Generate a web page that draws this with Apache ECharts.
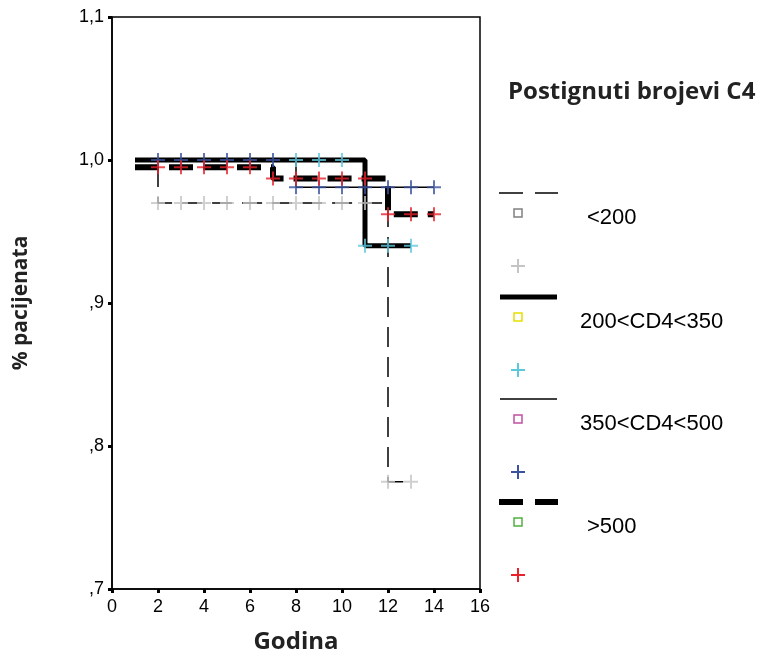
<!DOCTYPE html>
<html>
<head>
<meta charset="utf-8">
<script src="https://cdn.jsdelivr.net/npm/echarts@6/dist/echarts.min.js"></script>
<style>html,body{margin:0;padding:0;background:#fff;}#c{width:760px;height:657px;}</style>
</head>
<body>
<div id="c"></div>
<script>
// ---- data ----
const groupNames = ['<200', '200<CD4<350', '350<CD4<500', '>500'];
// survival step curves: [time, survival after event]
const curveLt200 = [[1, 1.0], [2, 0.970], [12, 0.775], [13, 0.775]];
const curve200to350 = [[1, 1.0], [11, 0.940], [13, 0.940]];
const curve350to500 = [[1, 1.0], [8, 0.981], [14, 0.981]];
const curveGt500 = [[1, 0.995], [7, 0.987], [12, 0.962], [14, 0.962]];
// censored observations
const censLt200 = [[2,0.970],[3,0.970],[4,0.970],[5,0.970],[6,0.970],[7,0.970],[8,0.970],[9,0.970],[10,0.970],[11,0.970],[12,0.775],[13,0.775]];
const cens200to350 = [[8,1.0],[9,1.0],[10,1.0],[11,0.940],[12,0.940],[13,0.940]];
const cens350to500 = [[2,1.0],[3,1.0],[4,1.0],[5,1.0],[6,1.0],[7,1.0],[8,0.981],[9,0.981],[10,0.981],[11,0.981],[12,0.981],[13,0.981],[14,0.981]];
const censGt500 = [[2,0.995],[3,0.995],[4,0.995],[5,0.995],[6,0.995],[7,0.987],[8,0.987],[9,0.987],[10,0.987],[11,0.987],[12,0.962],[13,0.962],[14,0.962]];
const xTickValues = [0, 2, 4, 6, 8, 10, 12, 14, 16];
const yTickLabels = ['1,1', '1,0', ',9', ',8', ',7'];

// ---- styles ----
const crossPath = 'path://M0,6 H14 V8 H0 Z M6,0 H8 V14 H6 Z';
const censorColors = ['#c4c4c4', '#5cc8dc', '#3a52a0', '#e8212b'];
const squareColors = ['#808080', '#e6e000', '#c050a0', '#50b040'];
const lineStyles = [
  { width: 1.5, type: [20, 10] },
  { width: 5, type: 'solid' },
  { width: 1.5, type: 'solid' },
  { width: 6, type: [24, 10] }
];
const curves = [curveLt200, curve200to350, curve350to500, curveGt500];
const censors = [censLt200, cens200to350, cens350to500, censGt500];

const series = [];
curves.forEach((c, i) => {
  series.push({
    name: groupNames[i], type: 'line', step: 'end', data: c, showSymbol: false, silent: true,
    lineStyle: { color: '#000', width: lineStyles[i].width, type: lineStyles[i].type },
    z: 2
  });
});
censors.forEach((c, i) => {
  series.push({
    name: groupNames[i] + ' cens', type: 'scatter', data: c, symbol: crossPath, symbolSize: 14,
    itemStyle: { color: censorColors[i] }, z: 3 + i
  });
});

// ---- legend (graphic) ----
const legTop = [193, 297, 399, 502];
const graphic = [];
graphic.push({ type: 'text', x: 508, y: 92, style: { text: 'Postignuti brojevi C4', font: 'bold 24px "Open Sans"', fill: '#222', verticalAlign: 'middle' } });
legTop.forEach((y, i) => {
  const ls = lineStyles[i];
  if (Array.isArray(ls.type)) {
    graphic.push({ type: 'line', shape: { x1: 499, y1: y, x2: 523, y2: y }, style: { stroke: '#000', lineWidth: ls.width } });
    graphic.push({ type: 'line', shape: { x1: 535, y1: y, x2: 558, y2: y }, style: { stroke: '#000', lineWidth: ls.width } });
  } else {
    graphic.push({ type: 'line', shape: { x1: 500, y1: y, x2: 557, y2: y }, style: { stroke: '#000', lineWidth: ls.width } });
  }
  const sq = y + 20;
  graphic.push({ type: 'rect', shape: { x: 514, y: sq - 4, width: 8, height: 8 }, style: { fill: 'none', stroke: squareColors[i], lineWidth: 1.5 } });
  const cy = y + 73;
  graphic.push({ type: 'rect', shape: { x: 511, y: cy - 1, width: 14, height: 2 }, style: { fill: censorColors[i] } });
  graphic.push({ type: 'rect', shape: { x: 517, y: cy - 7, width: 2, height: 14 }, style: { fill: censorColors[i] } });
  const lbl = groupNames[i];
  const lx = (lbl.length > 4) ? 580 : 587;
  graphic.push({ type: 'text', x: lx, y: y + 25, style: { text: lbl, font: '22px "Liberation Sans"', fill: '#000', verticalAlign: 'middle' } });
});

const chart = echarts.init(document.getElementById('c'), null, { renderer: 'canvas' });
chart.setOption({
  backgroundColor: '#fff',
  animation: false,
  grid: { left: 112, right: 280, top: 17, bottom: 68, containLabel: false, outerBoundsMode: 'none',
    show: true, borderColor: '#000', borderWidth: 1.5 },
  xAxis: {
    type: 'value', min: 0, max: 16, interval: 2,
    name: 'Godina', nameLocation: 'middle', nameGap: 41,
    nameTextStyle: { fontFamily: 'Open Sans', fontWeight: 'bold', fontSize: 24, color: '#222' },
    axisLine: { lineStyle: { color: '#000', width: 1.5 } },
    axisTick: { length: 4, lineStyle: { color: '#000', width: 3 } },
    axisLabel: { fontFamily: 'Liberation Sans', fontSize: 18, color: '#000', margin: 9,
      formatter: v => String(xTickValues[xTickValues.indexOf(v)]) },
    splitLine: { show: false }
  },
  yAxis: {
    type: 'value', min: 0.7, max: 1.1, interval: 0.1,
    name: '% pacijenata', nameLocation: 'middle', nameGap: 80, nameRotate: 90,
    nameTextStyle: { fontFamily: 'Open Sans', fontWeight: 'bold', fontSize: 21, color: '#222' },
    axisLine: { lineStyle: { color: '#000', width: 1.5 } },
    axisTick: { length: 4, lineStyle: { color: '#000', width: 3 } },
    axisLabel: { fontFamily: 'Liberation Sans', fontSize: 18, color: '#000', margin: 8,
      formatter: v => yTickLabels[Math.round((1.1 - v) * 10)] },
    splitLine: { show: false }
  },
  series: series,
  graphic: graphic
});
</script>
</body>
</html>
